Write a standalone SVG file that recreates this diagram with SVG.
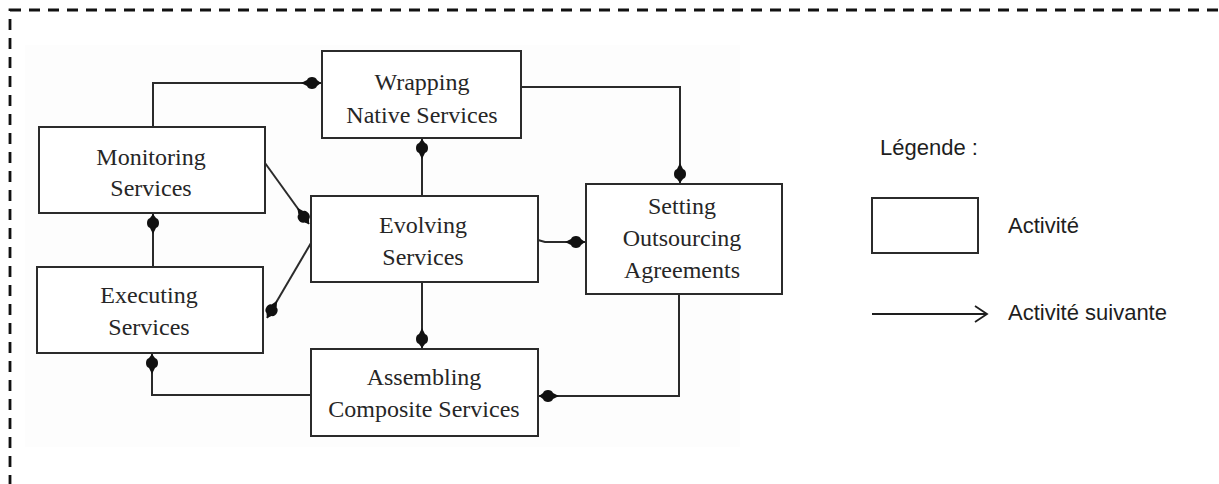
<svg xmlns="http://www.w3.org/2000/svg" width="1219" height="484" viewBox="0 0 1219 484">
  <style>
    .box { fill: #ffffff; stroke: #2b2b2b; stroke-width: 2; }
    .lbl { font-family: "Liberation Serif", "Times New Roman", serif; font-size: 24px; fill: #262626; text-anchor: middle; }
    .leg { font-family: "Liberation Sans", Arial, sans-serif; font-size: 22px; fill: #1e1e1e; }
    .wire { fill: none; stroke: #2b2b2b; stroke-width: 2; marker-end: url(#blob); }
  </style>
  <defs>
    <!-- filled blob arrowhead used by the flow connectors -->
    <marker id="blob" markerUnits="userSpaceOnUse" viewBox="-22 -8 23 16" markerWidth="23" markerHeight="16" refX="0" refY="0" orient="auto">
      <path d="M0,0 L-4,-3 C-5,-7 -13,-7 -14,-3 L-20,0 L-14,3 C-13,7 -5,7 -4,3 Z" fill="#111"/>
    </marker>
  </defs>

  <rect width="1219" height="484" fill="#ffffff"/>
  <!-- dashed frame -->
  <rect x="10" y="10" width="1230" height="490" fill="none" stroke="#111" stroke-width="2.8" stroke-dasharray="11 8"/>
  <!-- faint panel behind the process diagram -->
  <rect x="25" y="45" width="715" height="402" fill="#fdfdfd"/>

  <g id="connectors">
    <path class="wire" d="M153,127 V83 H321"/>
    <path class="wire" d="M521,87 H680 V183"/>
    <path class="wire" d="M422,196 V139"/>
    <path class="wire" d="M265,163 L309,224"/>
    <path class="wire" d="M311,243 L267,318"/>
    <path class="wire" d="M538,240 L545,242 H585"/>
    <path class="wire" d="M422,282 V348"/>
    <path class="wire" d="M679,294 V396 H539"/>
    <path class="wire" d="M311,395 H152 V354"/>
    <path class="wire" d="M153,267 V214"/>
  </g>

  <g id="monitoring">
    <rect class="box" x="39" y="127" width="226" height="86"/>
    <text class="lbl" x="151" y="165">Monitoring</text>
    <text class="lbl" x="151" y="196">Services</text>
  </g>
  <g id="wrapping">
    <rect class="box" x="322" y="51" width="199" height="87"/>
    <text class="lbl" x="422" y="90">Wrapping</text>
    <text class="lbl" x="422" y="123">Native Services</text>
  </g>
  <g id="evolving">
    <rect class="box" x="311" y="196" width="227" height="86"/>
    <text class="lbl" x="423" y="233">Evolving</text>
    <text class="lbl" x="423" y="265">Services</text>
  </g>
  <g id="setting">
    <rect class="box" x="586" y="184" width="196" height="110"/>
    <text class="lbl" x="682" y="214">Setting</text>
    <text class="lbl" x="682" y="246">Outsourcing</text>
    <text class="lbl" x="682" y="278">Agreements</text>
  </g>
  <g id="executing">
    <rect class="box" x="37" y="267" width="226" height="86"/>
    <text class="lbl" x="149" y="303">Executing</text>
    <text class="lbl" x="149" y="335">Services</text>
  </g>
  <g id="assembling">
    <rect class="box" x="311" y="349" width="227" height="87"/>
    <text class="lbl" x="424" y="385">Assembling</text>
    <text class="lbl" x="424" y="417">Composite Services</text>
  </g>

  <g id="legend">
    <text class="leg" x="880" y="155">Légende :</text>
    <rect x="872" y="198" width="106" height="55" fill="none" stroke="#2b2b2b" stroke-width="2"/>
    <text class="leg" x="1008" y="233">Activité</text>
    <path d="M872,314 H986 M975,306 L987,314 L975,322" fill="none" stroke="#1e1e1e" stroke-width="1.8"/>
    <text class="leg" x="1008" y="320">Activité suivante</text>
  </g>
</svg>
